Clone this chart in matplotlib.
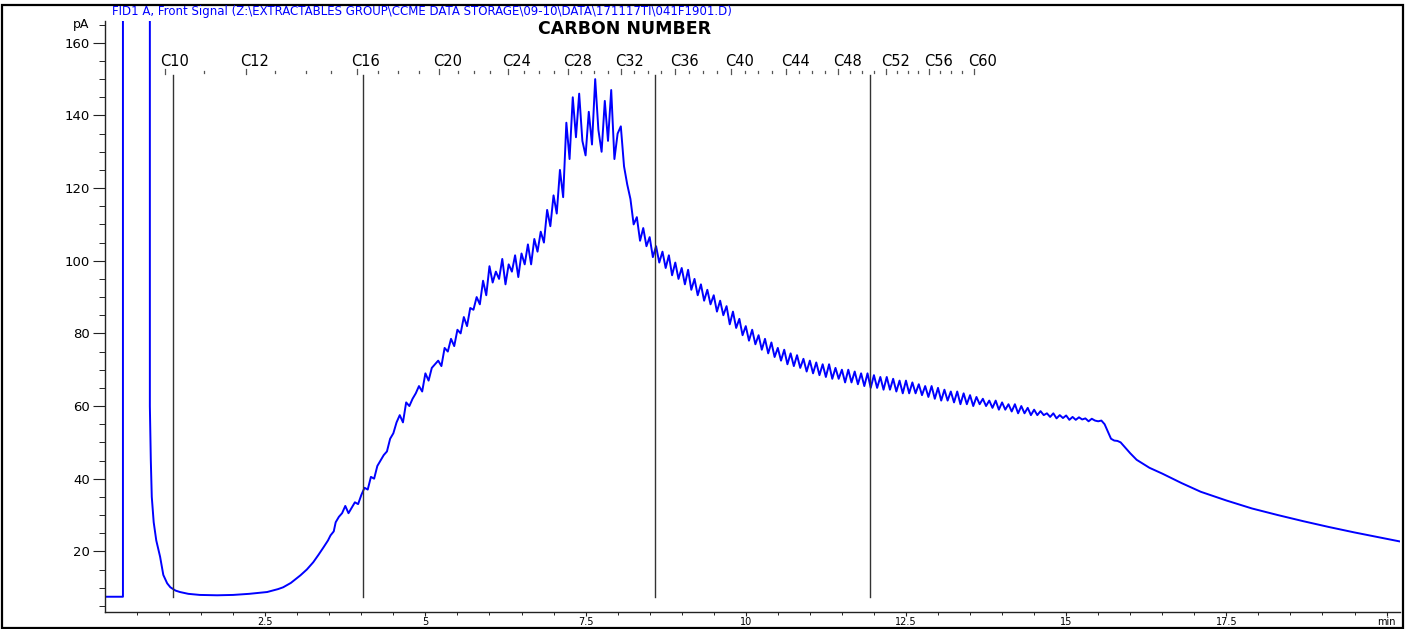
import numpy as np
import matplotlib.pyplot as plt
from matplotlib.patches import Rectangle

plt.rcParams['font.family'] = ['DejaVu Sans']

# FID signal, pA vs retention time (min)
head_t = [0.0, 0.28, 0.28, 0.70, 0.70, 0.715, 0.73, 0.76, 0.80, 0.86, 0.91, 0.97,
          1.02, 1.10, 1.17, 1.30, 1.48, 1.75, 2.00, 2.25, 2.53, 2.70, 2.78, 2.90,
          3.05, 3.15, 3.25, 3.33, 3.41, 3.48, 3.52, 3.57]
head_v = [7.5, 7.5, 175, 175, 60, 45, 35, 28, 23, 18.5, 13.5, 11.2,
          10.1, 9.2, 8.8, 8.3, 8.0, 7.9, 8.0, 8.3, 8.8, 9.6, 10.1, 11.3,
          13.4, 15.0, 17.0, 19.0, 21.1, 23.0, 24.4, 25.5]

# noisy hump, sampled every 0.05 min from 3.60 min
hump_start = 3.60
hump_step = 0.05
hump_v = [
    28, 29.5, 30.5, 32.5, 30.5, 32, 33.5, 33, 35.5, 37.5, 37, 40.5, 40, 43.5, 45, 46.5, 47.5, 51, 52.5, 55.5,
    57.5, 55.5, 61, 60, 62, 63.5, 65.5, 64, 69, 67, 70.5, 71.5, 72.5, 71, 76, 75, 78.5, 76.5, 81, 80,
    84.5, 82, 87, 86.5, 90, 88, 94.5, 90.5, 98.5, 94, 97, 95, 100.5, 93.5, 99, 97, 101.5, 95.5, 102, 99,
    104.5, 99, 106, 102.5, 108, 105, 114, 109.5, 118, 113, 125, 117.5, 138, 128, 145, 134, 146, 133, 129, 141,
    132, 150, 136, 130, 144, 133, 147, 128, 135, 137, 126, 121, 117, 110, 112, 105.5, 109, 104, 106.5, 101,
    104, 99.5, 102.5, 98, 101.5, 96, 99.5, 95, 98, 93.5, 97.5, 92, 95, 90.5, 93.5, 89, 92, 88, 90.5, 86,
    89, 85, 87.5, 82.5, 86, 81.5, 84, 79.5, 82, 78, 81, 77, 79.5, 75.5, 78.5, 74.5, 77.5, 73.5, 76, 72.5,
    75.5, 71.5, 74.5, 71, 74, 70.5, 73, 69.5, 72.5, 69, 72, 68.5, 71.5, 68, 71.5, 67.5, 70.5, 67.5, 70, 66.5,
    70, 66.5, 69.5, 66, 69, 65.5, 69, 65, 68.5, 65, 68, 64.5, 68, 64.5, 67.5, 64, 67, 63.5, 67, 63.5,
    66.5, 63.5, 66, 63, 65.5, 62.5, 65.5, 62, 65, 61.5, 64.5, 61.5, 64, 61, 64, 60.5, 63.5, 60.5, 63, 60,
    62.5, 60.5, 62, 60, 61.5, 59.5, 61.5, 59, 61, 59, 60.5, 58.5, 60.5, 58, 60, 58, 59.5, 57.5, 59, 57.5,
    58.6, 57.5, 58, 57, 58, 56.6, 57.5, 56.7, 57.4, 56.2, 57, 56.2, 56.9, 56.3, 56.6, 55.8, 56.5, 56, 55.8,
]

tail_t = [15.55, 15.60, 15.65, 15.70, 15.75, 15.80, 15.85, 15.90, 16.0, 16.1, 16.3, 16.5,
          16.8, 17.1, 17.5, 17.9, 18.3, 18.7, 19.1, 19.5, 19.9, 20.3]
tail_v = [56, 55, 53, 51, 50.5, 50.4, 50, 49, 47, 45.2, 43, 41.4,
          38.8, 36.4, 34, 31.8, 30, 28.3, 26.7, 25.2, 23.8, 22.4]

# carbon number retention times C10..C60
carbon_num = list(range(10, 61))
carbon_rt = [0.94, 1.55, 2.20, 2.65, 3.14, 3.53, 3.93, 4.26, 4.57, 4.90,
             5.21, 5.51, 5.76, 6.01, 6.29, 6.54, 6.77, 7.01, 7.23, 7.43,
             7.63, 7.85, 8.05, 8.26, 8.48, 8.68, 8.90, 9.12, 9.33, 9.55,
             9.77, 9.99, 10.19, 10.41, 10.63, 10.83, 11.03, 11.24, 11.44, 11.63,
             11.82, 12.00, 12.19, 12.36, 12.53, 12.69, 12.86, 13.03, 13.20, 13.38,
             13.56]
carbon_labeled = [10, 12, 16, 20, 24, 28, 32, 36, 40, 44, 48, 52, 56, 60]

# fraction boundary markers (min)
boundary_rt = [1.06, 4.02, 8.59, 11.94]

header = r"FID1 A, Front Signal (Z:\EXTRACTABLES GROUP\CCME DATA STORAGE\09-10\DATA\171117TI\041F1901.D)"

hump_t = hump_start + hump_step * np.arange(len(hump_v))
t = np.concatenate([head_t, hump_t, tail_t])
v = np.concatenate([head_v, hump_v, tail_v])

W, H = 1408, 629
fig = plt.figure(figsize=(W / 100, H / 100), dpi=100)
ax = fig.add_axes([105 / W, 17 / H, (1400 - 105) / W, (612 - 21) / H])

ax.plot(t, v, color='#0000ff', lw=1.4)

for b in boundary_rt:
    ax.plot([b, b], [7.4, 151.2], color='#333333', lw=1.0)

for c, rt in zip(carbon_num, carbon_rt):
    if c in carbon_labeled:
        ax.plot([rt, rt], [151.3, 152.9], color='#555555', lw=0.9)
        ax.text(rt + 0.14, 154.9, "C%d" % c, ha='center', va='center', fontsize=10.5)
    else:
        ax.plot([rt, rt], [151.7, 152.3], color='#555555', lw=0.9)

ax.set_xlim(0, 20.21)
ax.set_ylim(3.3, 166)

ax.set_xticks([2.5, 5, 7.5, 10, 12.5, 15, 17.5, 20])
ax.set_xticklabels(['2.5', '5', '7.5', '10', '12.5', '15', '17.5', 'min'])
ax.set_xticks(np.arange(0.5, 20.2, 0.5), minor=True)
ax.set_yticks([20, 40, 60, 80, 100, 120, 140, 160])
ax.set_yticks([v5 for v5 in range(5, 166, 5) if v5 % 20 != 0], minor=True)
ax.tick_params(axis='both', color='#222222')
ax.tick_params(axis='y', which='major', length=9, pad=2, labelsize=9.5)
ax.tick_params(axis='y', which='minor', length=4.5)
ax.tick_params(axis='x', which='major', length=3, pad=0.5, labelsize=7)
ax.tick_params(axis='x', which='minor', length=2.5)
ax.text(-0.012, 165, 'pA', transform=ax.get_yaxis_transform(), ha='right', va='center', fontsize=9)

for s in ['top', 'right']:
    ax.spines[s].set_visible(False)
for s in ['left', 'bottom']:
    ax.spines[s].set_color('#222222')
    ax.spines[s].set_linewidth(1.0)

fig.text(112 / W, 1 - 11.5 / H, header, color='#0000ff', fontsize=8.5, ha='left', va='center')
fig.text(625 / W, 1 - 29.5 / H, 'CARBON NUMBER', fontsize=12.5, fontweight='bold', ha='center', va='center')

fig.patches.append(Rectangle((2 / W, 1 / H), 1401 / W, 623 / H, transform=fig.transFigure,
                             fill=False, edgecolor='black', lw=1.6))

fig.savefig('out.png', dpi=100)
